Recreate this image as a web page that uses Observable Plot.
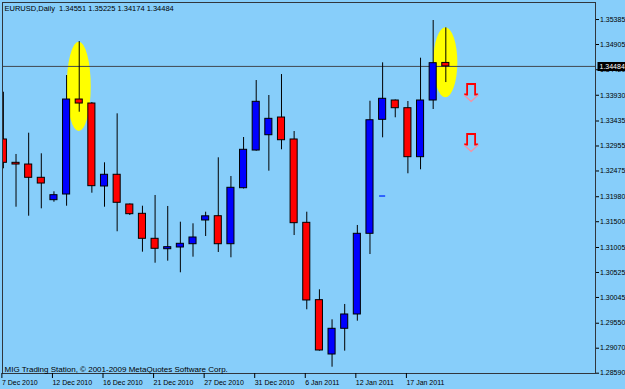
<!DOCTYPE html>
<html>
<head>
<meta charset="utf-8">
<script src="https://cdn.jsdelivr.net/npm/d3@7"></script>
<script src="https://cdn.jsdelivr.net/npm/@observablehq/plot@0.6"></script>
<style>
  html, body { margin: 0; padding: 0; background: #87cefa; }
  #chart { width: 625px; height: 389px; overflow: hidden; }
</style>
</head>
<body>
<div id="chart"></div>
<script>
// ---- data ----
const symbolTitle = "EURUSD,Daily  1.34551 1.35225 1.34174 1.34484";
const footerText = "MIG Trading Station, \u00a9 2001-2009 MetaQuotes Software Corp.";

const barIndex = Array.from({length: 36}, (_, i) => i);
const open  = [1.33080,1.32632,1.32599,1.32344,1.31914,1.32023,1.33848,1.33771,1.32177,1.32402,1.31831,1.31652,1.31172,1.30972,1.31005,1.31068,1.31524,1.31606,1.31068,1.32144,1.32868,1.33162,1.33502,1.33080,1.31479,1.29993,1.28949,1.29443,1.29718,1.31268,1.33458,1.33829,1.33681,1.32740,1.33829,1.34551];
const high  = [1.33988,1.32792,1.33201,1.32805,1.32075,1.34309,1.34962,1.33790,1.32632,1.33573,1.31841,1.31798,1.32004,1.31793,1.31491,1.31460,1.31683,1.32728,1.32369,1.33118,1.34213,1.33925,1.34328,1.33233,1.31683,1.30192,1.29616,1.29910,1.31428,1.33815,1.34553,1.33839,1.33810,1.34642,1.35366,1.35225];
const low   = [1.32517,1.31779,1.31606,1.31748,1.31875,1.31798,1.33604,1.32048,1.31779,1.31307,1.31620,1.30915,1.30703,1.30742,1.30519,1.30819,1.31216,1.30909,1.30807,1.32129,1.32855,1.32471,1.32882,1.31235,1.29808,1.29013,1.28705,1.29013,1.29589,1.30870,1.33112,1.33497,1.32421,1.32498,1.33656,1.34174];
const close = [1.32632,1.32599,1.32344,1.32234,1.32010,1.33848,1.33771,1.32183,1.32402,1.31864,1.31645,1.31172,1.30980,1.31011,1.31076,1.31197,1.31604,1.31068,1.32152,1.32882,1.33804,1.33477,1.33066,1.31472,1.29987,1.29026,1.29443,1.29718,1.31268,1.33450,1.33862,1.33681,1.32740,1.33829,1.34546,1.34484];

const dateTickBars = [0, 4, 8, 12, 16, 20, 24, 28, 32];
const dateTickLabels = ["7 Dec 2010","12 Dec 2010","16 Dec 2010","21 Dec 2010","27 Dec 2010","31 Dec 2010","6 Jan 2011","12 Jan 2011","17 Jan 2011"];
const priceTicks = [1.35385,1.34905,1.34420,1.33930,1.33435,1.32955,1.32475,1.31980,1.31500,1.31005,1.30525,1.30045,1.29550,1.29070,1.28590];

const highlightBars = [6, 35];
const highlightTop = [1.34949, 1.35226];
const highlightBottom = [1.33233, 1.33881];

const arrowBars = [37, 37];
const arrowPrices = [1.33983, 1.33022];

const dashBars = [30];
const dashPrices = [1.31994];

const lastPrice = 1.34484;

// ---- tables built from the arrays ----
const candles = barIndex.map((i) => ({i, open: open[i], high: high[i], low: low[i], close: close[i]}));
const highlights = highlightBars.map((b, k) => ({bar: b, top: highlightTop[k], bottom: highlightBottom[k]}));
const arrows = arrowBars.map((b, k) => ({bar: b, price: arrowPrices[k]}));
const dashes = dashBars.map((b, k) => ({bar: b, price: dashPrices[k]}));
const tickLabelOf = new Map(dateTickBars.map((b, k) => [b, dateTickLabels[k]]));

const UP = "#0000ff", DOWN = "#ff0000";

const arrowShaft = {draw(ctx) {
  ctx.moveTo(-7, 2); ctx.lineTo(-4, 2); ctx.lineTo(-4, -8.5);
  ctx.lineTo(4, -8.5); ctx.lineTo(4, 2); ctx.lineTo(7, 2);
}};
const arrowHead = {draw(ctx) {
  ctx.moveTo(-7, 2.5); ctx.lineTo(0, 9); ctx.lineTo(7, 2.5);
}};
const labelBox = {draw(ctx) { ctx.rect(2, -4.5, 34, 9); }};

const chart = Plot.plot({
  width: 625,
  height: 389,
  marginLeft: 2,
  marginRight: 30,
  marginTop: 2,
  marginBottom: 16,
  style: {background: "#87cefa", color: "black", fontFamily: "'Liberation Sans', Arial, sans-serif", fontSize: "7px", overflow: "hidden"},
  x: {type: "linear", domain: [-0.07, 46.84]},
  y: {type: "linear", domain: [1.28584, 1.35712]},
  marks: [
    // yellow highlight ellipses
    Plot.rect(highlights, {x1: d => d.bar - 0.95, x2: d => d.bar + 0.95, y1: "bottom", y2: "top", fill: "#ffff00", rx: 100, ry: 100}),
    // current price line
    Plot.ruleY([lastPrice], {stroke: "#404850", strokeWidth: 1}),
    // wicks
    Plot.ruleX(candles, {x: "i", y1: "low", y2: "high", stroke: "black", strokeWidth: 1, clip: true}),
    // bodies
    Plot.rect(candles, {
      x1: d => d.i - 0.28, x2: d => d.i + 0.28,
      y1: "open", y2: "close",
      fill: d => d.close > d.open ? UP : DOWN,
      stroke: "black", strokeWidth: 1, clip: true
    }),
    // small blue indicator dash
    Plot.ruleY(dashes, {y: "price", x1: d => d.bar - 0.24, x2: d => d.bar + 0.24, stroke: "#1040ff", strokeWidth: 1.5}),
    // signal arrows
    Plot.dot(arrows, {x: "bar", y: "price", symbol: arrowShaft, r: 5, fill: "none", stroke: "#ff0000", strokeWidth: 1.8}),
    Plot.dot(arrows, {x: "bar", y: "price", symbol: arrowHead, r: 5, fill: "none", stroke: "#ff8c9c", strokeWidth: 1.2}),
    // frame
    Plot.frame({stroke: "#30363c", strokeWidth: 1}),
    // axes
    Plot.axisY(priceTicks, {anchor: "right", tickSize: 3, tickPadding: 1.5, tickFormat: d => d.toFixed(5), label: null, fontSize: 7, stroke: "black"}),
    Plot.axisX(dateTickBars, {anchor: "bottom", tickSize: 5, tickPadding: 1.5, tickFormat: b => tickLabelOf.get(b), textAnchor: "start", dx: -1.5, label: null, fontSize: 7, stroke: "black"}),
    // current price label box
    Plot.dot([lastPrice], {y: d => d, frameAnchor: "right", symbol: labelBox, r: 5, fill: "black", stroke: "none"}),
    Plot.text([lastPrice], {y: d => d, frameAnchor: "right", dx: 4, textAnchor: "start", text: d => d.toFixed(5), fill: "white", fontSize: 7}),
    // header and footer texts
    Plot.text([symbolTitle], {frameAnchor: "top-left", dx: 2, dy: 3, textAnchor: "start", lineAnchor: "top", fontSize: 7.5, fill: "black"}),
    Plot.text([footerText], {frameAnchor: "bottom-left", dx: 2, dy: -1.5, textAnchor: "start", lineAnchor: "bottom", fontSize: 8, fill: "black"})
  ]
});
document.getElementById("chart").appendChild(chart);
</script>
</body>
</html>
